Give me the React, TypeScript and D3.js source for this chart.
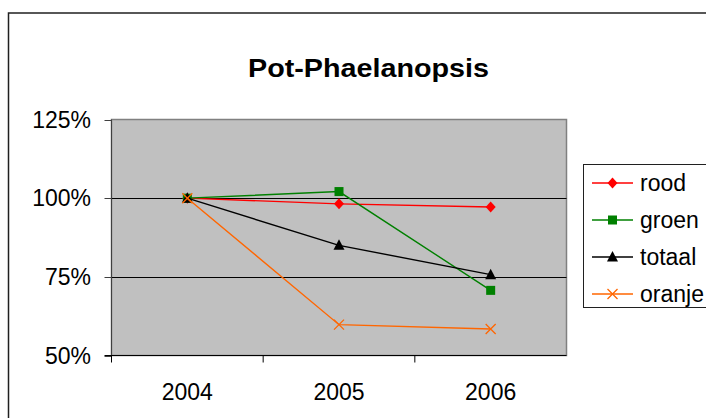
import { useEffect, useRef } from 'react';
import * as d3 from 'd3';

const years = ['2004', '2005', '2006'];
const rood = [1.0, 0.982, 0.972];
const groen = [1.0, 1.021, 0.707];
const totaal = [1.0, 0.85, 0.757];
const oranje = [1.0, 0.598, 0.584];
const yTicks = [0.5, 0.75, 1.0, 1.25];

const seriesList = [
  { name: 'rood', values: rood, color: '#FF0000', marker: 'diamond' },
  { name: 'groen', values: groen, color: '#008000', marker: 'square' },
  { name: 'totaal', values: totaal, color: '#000000', marker: 'triangle' },
  { name: 'oranje', values: oranje, color: '#FF6600', marker: 'cross' },
];

const drawMarker = (g: any, kind: string, cx: number, cy: number, color: string) => {
  if (kind === 'diamond') {
    g.append('path')
      .attr('d', `M${cx},${cy - 5.5}L${cx + 5},${cy}L${cx},${cy + 5.5}L${cx - 5},${cy}Z`)
      .attr('fill', color);
  } else if (kind === 'square') {
    g.append('rect')
      .attr('x', cx - 4.5)
      .attr('y', cy - 4.5)
      .attr('width', 9)
      .attr('height', 9)
      .attr('fill', color);
  } else if (kind === 'triangle') {
    g.append('path')
      .attr('d', `M${cx},${cy - 6}L${cx + 5.5},${cy + 4.5}L${cx - 5.5},${cy + 4.5}Z`)
      .attr('fill', color);
  } else {
    g.append('path')
      .attr('d', `M${cx - 5},${cy - 5}L${cx + 5},${cy + 5}M${cx + 5},${cy - 5}L${cx - 5},${cy + 5}`)
      .attr('stroke', color)
      .attr('stroke-width', 1.3)
      .attr('fill', 'none');
  }
};

const App = () => {
  const ref = useRef(null);

  const plot = { left: 111.5, right: 566.5, top: 119.5, bottom: 355.5 };

  useEffect(() => {
    const svg = d3.select(ref.current);
    svg.selectAll('*').remove();
    const font = 'Arial, "Liberation Sans", sans-serif';

    // chart border
    svg.append('rect')
      .attr('x', 8.5)
      .attr('y', 13)
      .attr('width', 720)
      .attr('height', 420)
      .attr('fill', '#fff')
      .attr('stroke', '#202020')
      .attr('stroke-width', 1.5);

    svg.append('text')
      .attr('x', 368.5)
      .attr('y', 77)
      .attr('text-anchor', 'middle')
      .attr('textLength', 241)
      .attr('lengthAdjust', 'spacingAndGlyphs')
      .style('font', `bold 25px ${font}`)
      .text('Pot-Phaelanopsis');

    const x = d3.scaleBand().domain(years).range([plot.left, plot.right]);
    const y = d3.scaleLinear().domain([0.5, 1.25]).range([plot.bottom, plot.top]);

    // plot area
    svg.append('rect')
      .attr('x', plot.left)
      .attr('y', plot.top)
      .attr('width', plot.right - plot.left)
      .attr('height', plot.bottom - plot.top)
      .attr('fill', '#C0C0C0')
      .attr('stroke', '#808080')
      .attr('stroke-width', 1.5);

    // gridlines
    svg.append('g')
      .selectAll('line')
      .data(yTicks.filter((t) => t > 0.5 && t < 1.25))
      .enter()
      .append('line')
      .attr('x1', plot.left)
      .attr('x2', plot.right)
      .attr('y1', (d: any) => Math.round(y(d)) + 0.5)
      .attr('y2', (d: any) => Math.round(y(d)) + 0.5)
      .attr('stroke', '#000')
      .attr('stroke-width', 1);

    // y axis
    const yAxis = svg.append('g');
    yAxis.append('line')
      .attr('x1', plot.left)
      .attr('x2', plot.left)
      .attr('y1', plot.top)
      .attr('y2', plot.bottom)
      .attr('stroke', '#404040');
    yTicks.forEach((t) => {
      const ty = Math.round(y(t)) + 0.5;
      yAxis.append('line')
        .attr('x1', plot.left - 7)
        .attr('x2', plot.left)
        .attr('y1', ty)
        .attr('y2', ty)
        .attr('stroke', '#404040');
      yAxis.append('text')
        .attr('x', 91)
        .attr('y', y(t))
        .attr('dy', '0.36em')
        .attr('text-anchor', 'end')
        .style('font', `23px ${font}`)
        .text(d3.format('.0%')(t));
    });

    // x axis
    const xAxis = svg.append('g');
    xAxis.append('line')
      .attr('x1', plot.left - 7)
      .attr('x2', plot.right)
      .attr('y1', plot.bottom)
      .attr('y2', plot.bottom)
      .attr('stroke', '#000');
    years.forEach((yr) => {
      xAxis.append('line')
        .attr('x1', x(yr)!)
        .attr('x2', x(yr)!)
        .attr('y1', plot.bottom)
        .attr('y2', plot.bottom + 7)
        .attr('stroke', '#000');
      xAxis.append('text')
        .attr('x', x(yr)! + x.bandwidth() / 2)
        .attr('y', 400)
        .attr('text-anchor', 'middle')
        .style('font', `23px ${font}`)
        .text(yr);
    });

    // series
    const line = d3.line<number>()
      .x((_d, i) => x(years[i])! + x.bandwidth() / 2)
      .y((d) => y(d));

    seriesList.forEach((s) => {
      const g = svg.append('g');
      g.append('path')
        .attr('d', line(s.values))
        .attr('fill', 'none')
        .attr('stroke', s.color)
        .attr('stroke-width', 1.4);
      s.values.forEach((v, i) => {
        drawMarker(g, s.marker, x(years[i])! + x.bandwidth() / 2, y(v), s.color);
      });
    });

    // legend
    const legend = svg.append('g');
    legend.append('rect')
      .attr('x', 583.5)
      .attr('y', 164.5)
      .attr('width', 140)
      .attr('height', 143)
      .attr('fill', '#fff')
      .attr('stroke', '#202020')
      .attr('stroke-width', 1);
    seriesList.forEach((s, i) => {
      const ly = 183 + i * 37;
      legend.append('line')
        .attr('x1', 592)
        .attr('x2', 633)
        .attr('y1', ly)
        .attr('y2', ly)
        .attr('stroke', s.color)
        .attr('stroke-width', 1.4);
      drawMarker(legend, s.marker, 612.5, ly, s.color);
      legend.append('text')
        .attr('x', 640)
        .attr('y', ly)
        .attr('dy', '0.36em')
        .style('font', `23px ${font}`)
        .text(s.name);
    });
  }, []);

  return (
    <svg
      ref={ref}
      width={706}
      height={418}
      style={{ position: 'absolute', left: 0, top: 0, background: '#fff' }}
    />
  );
};

export default App;
